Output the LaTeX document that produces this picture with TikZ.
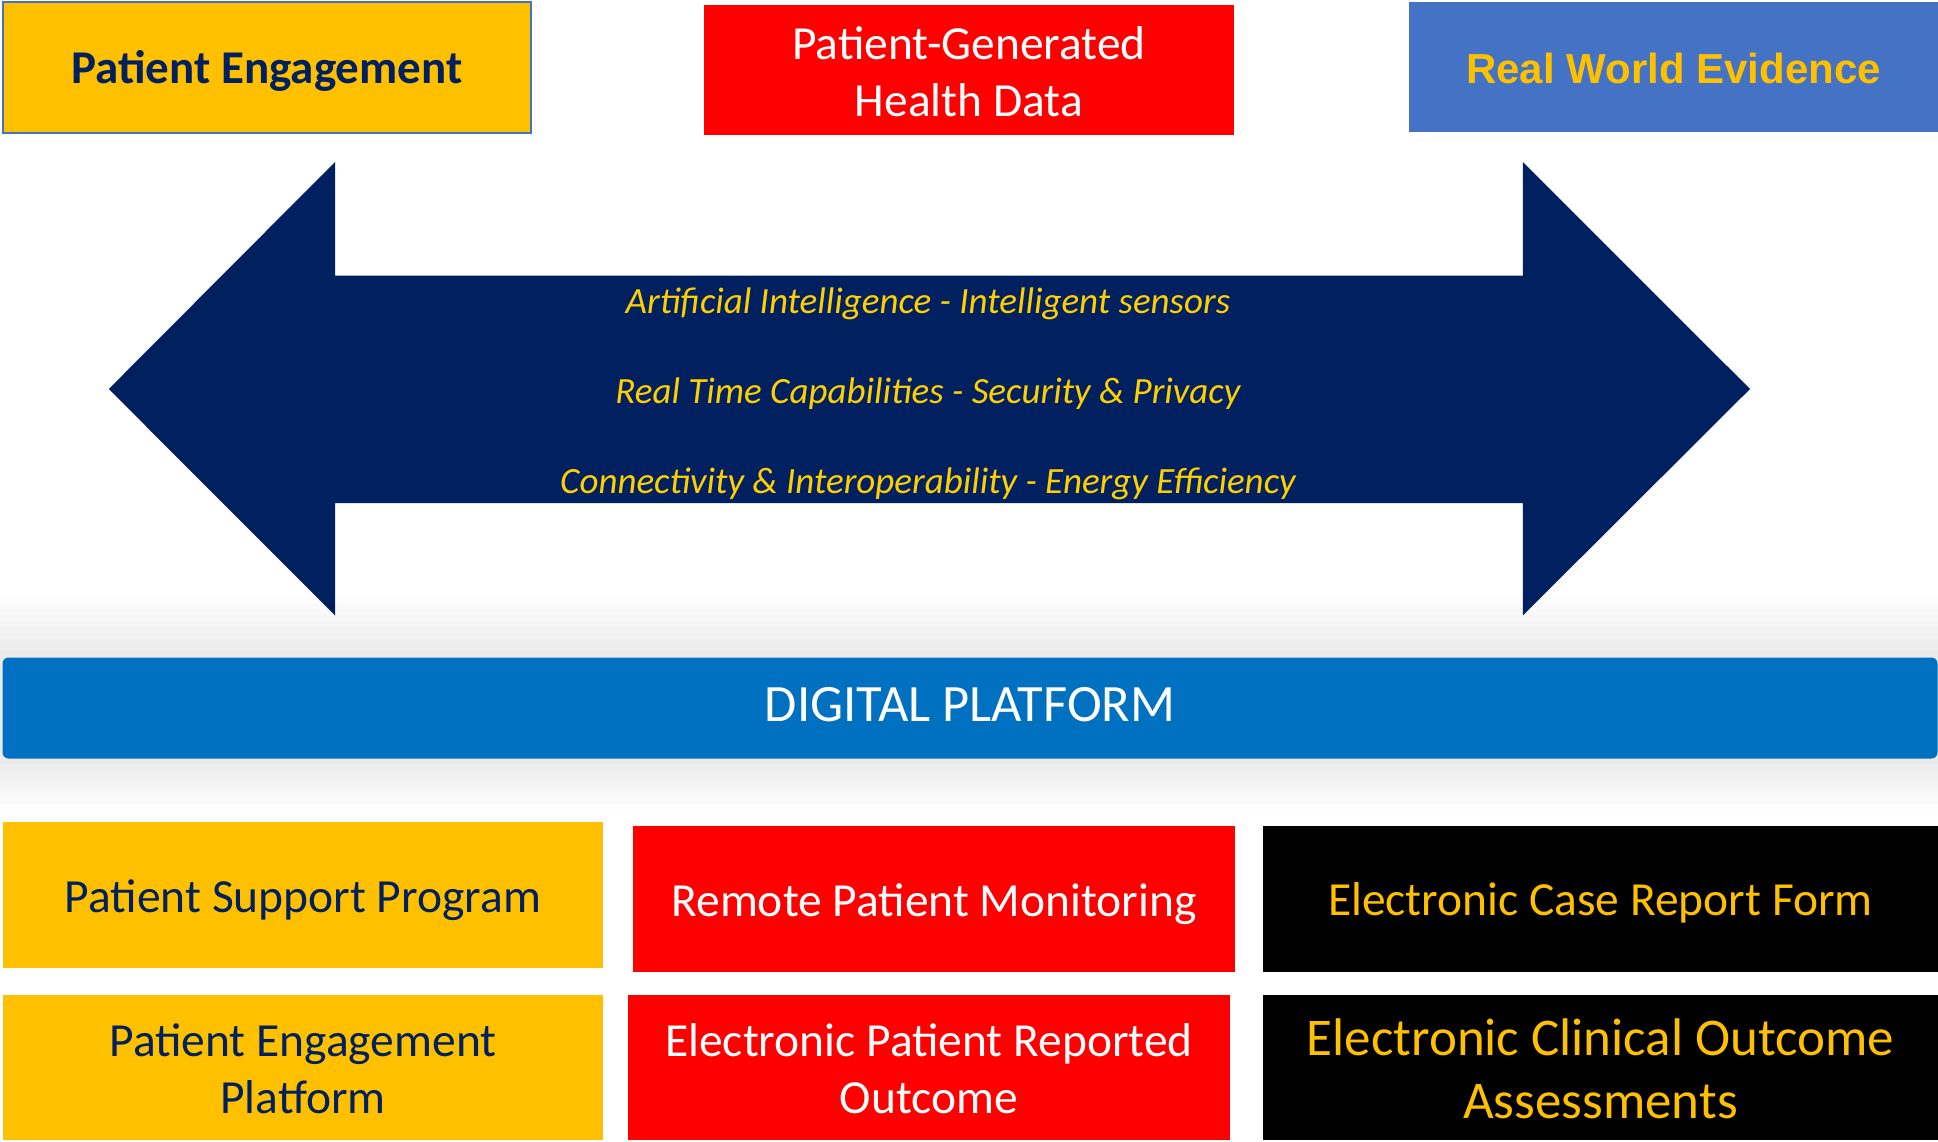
\documentclass[tikz,border=0pt]{standalone}
\usepackage{fontspec}
\setmainfont{Carlito}
\newfontfamily\arialfont{Liberation Sans}
\definecolor{pyellow}{HTML}{FFC000}
\definecolor{pnavy}{HTML}{002060}
\definecolor{pred}{HTML}{FF0000}
\definecolor{pblue}{HTML}{4472C4}
\definecolor{pdigital}{HTML}{0070C0}
\definecolor{arrowtxt}{HTML}{FFD000}
\tikzset{
  box/.style={inner sep=0pt},
  txt/.style={inner sep=0pt, align=center, font=\fontsize{47.5}{57}\selectfont},
  ybox/.style={box, fill=pyellow},
  rbox/.style={box, fill=pred},
  kbox/.style={box, fill=black},
  ytxt/.style={txt, text=pnavy},
  rtxt/.style={txt, text=white},
  ktxt/.style={txt, text=pyellow},
  atext/.style={inner sep=0pt, text=arrowtxt, font=\fontsize{37}{44}\selectfont\itshape},
}
\begin{document}
\begin{tikzpicture}[x=1pt,y=-1pt]
\useasboundingbox (0,0) rectangle (1938,1142);
% top row
\node[ybox, draw=pblue, line width=2pt, minimum width=528pt, minimum height=131pt] (pe) at (267,68) {};
\node[ytxt, font=\fontsize{47}{56}\selectfont\bfseries] (pe-t) at ([yshift=-2.5pt]pe.center) {Patient Engagement};
\node[rbox, minimum width=530pt, minimum height=130pt] (pghd) at (969,70) {};
\node[rtxt] (pghd-t) at ([yshift=-1.5pt]pghd.center) {Patient-Generated\\Health Data};
\node[box, fill=pblue, minimum width=529pt, minimum height=130pt] (rwe) at (1673.5,67) {};
\node[txt, text=pyellow, font=\fontsize{42}{50}\selectfont\arialfont\bfseries] (rwe-t) at ([yshift=-1.5pt]rwe.center) {Real World Evidence};
% double arrow
\fill[pnavy] (108.8,389) -- (335,162) -- (335,275.6) -- (1522.8,275.6) -- (1522.8,162) -- (1750,389) -- (1522.8,615.5) -- (1522.8,503) -- (335,503) -- (335,615.5) -- cycle;
\node[atext] (t1) at (928,303.5) {Artificial Intelligence - Intelligent sensors};
\node[atext] (t2) at (928,393.5) {Real Time Capabilities - Security \& Privacy};
\node[atext] (t3) at (928,484) {Connectivity \& Interoperability - Energy Efficiency};
% shadow around platform
\foreach \i in {1,...,10} {
  \fill[black, opacity=0.006] (0,657-6*\i) rectangle (1938,759+5*\i);
}
\node[box, fill=pdigital, rounded corners=6pt, minimum width=1935pt, minimum height=101pt] (dp) at (970,708) {};
\node[rtxt, font=\fontsize{52.5}{60}\selectfont] (dp-t) at ([yshift=3.5pt]dp.center) {DIGITAL PLATFORM};
% bottom rows
\node[ybox, minimum width=600pt, minimum height=146pt] (psp) at (303,895) {};
\node[ytxt] (psp-t) at ([yshift=-5pt]psp.center) {Patient Support Program};
\node[rbox, minimum width=602pt, minimum height=146pt] (rpm) at (934,898.5) {};
\node[rtxt] (rpm-t) at ([yshift=-6pt]rpm.center) {Remote Patient Monitoring};
\node[kbox, minimum width=675pt, minimum height=146pt] (ecrf) at (1600.5,898.5) {};
\node[ktxt] (ecrf-t) at ([yshift=-4pt]ecrf.center) {Electronic Case Report Form};
\node[ybox, minimum width=600pt, minimum height=145pt] (pep) at (303,1067) {};
\node[ytxt] (pep-t) at ([yshift=-1.5pt]pep.center) {Patient Engagement\\Platform};
\node[rbox, minimum width=602pt, minimum height=145pt] (epro) at (929,1067) {};
\node[rtxt] (epro-t) at ([yshift=-2pt]epro.center) {Electronic Patient Reported\\Outcome};
\node[kbox, minimum width=675pt, minimum height=145pt] (ecoa) at (1600.5,1067) {};
\node[ktxt, font=\fontsize{53}{63}\selectfont] (ecoa-t) at ([yshift=-1.5pt]ecoa.center) {Electronic Clinical Outcome\\Assessments};
\end{tikzpicture}
\end{document}
